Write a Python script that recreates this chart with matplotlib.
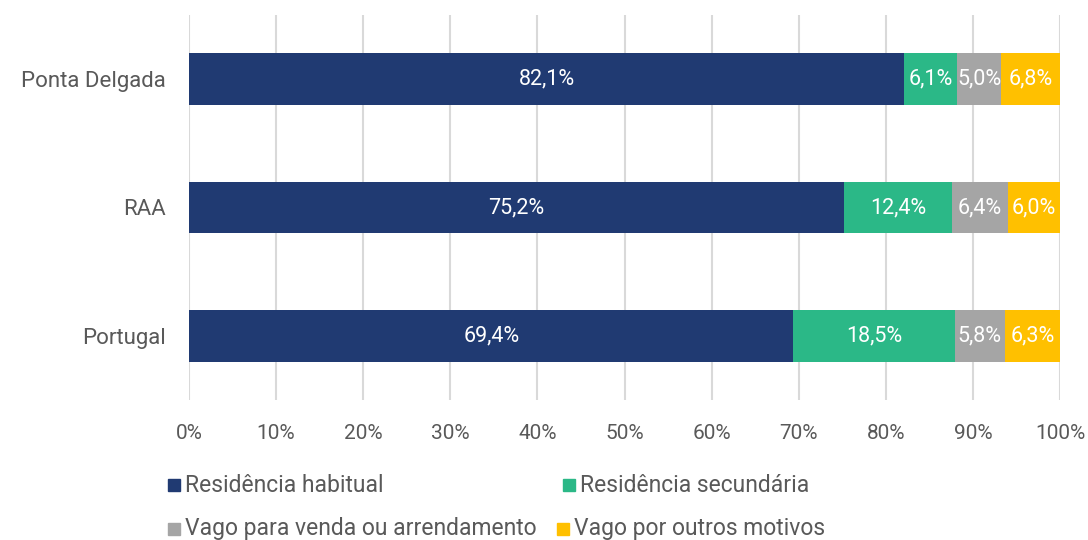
import matplotlib
matplotlib.use("Agg")
import matplotlib.pyplot as plt
from matplotlib.patches import Rectangle

plt.rcParams['font.family'] = ['Roboto', 'DejaVu Sans']

categories = ["Ponta Delgada", "RAA", "Portugal"]
series_names = ["Residência habitual", "Residência secundária",
                "Vago para venda ou arrendamento", "Vago por outros motivos"]
habitual = [82.1, 75.2, 69.4]
secundaria = [6.1, 12.4, 18.5]
vago_venda = [5.0, 6.4, 5.8]
vago_outros = [6.8, 6.0, 6.3]
x_ticks = [0, 10, 20, 30, 40, 50, 60, 70, 80, 90, 100]

colors = ["#203A72", "#2BB887", "#A5A5A5", "#FFC000"]
series = [habitual, secundaria, vago_venda, vago_outros]

W, H = 1088, 540
fig = plt.figure(figsize=(W / 100, H / 100), dpi=100)
ax = fig.add_axes([189 / W, 1 - 400 / H, (1060 - 189) / W, (400 - 15) / H])

ypos = list(range(len(categories)))
left = [0.0] * len(categories)
for vals, col in zip(series, colors):
    bars = ax.barh(ypos, vals, left=left, height=0.4, color=col, zorder=3)
    for b, v in zip(bars, vals):
        ax.text(b.get_x() + b.get_width() / 2, b.get_y() + b.get_height() / 2,
                f"{v:.1f}%".replace(".", ","), ha="center", va="center",
                color="white", fontsize=15.5, zorder=4)
    left = [l + v for l, v in zip(left, vals)]

ax.set_xlim(0, 100)
ax.set_ylim(2.5, -0.5)
ax.set_yticks(ypos)
ax.set_yticklabels(categories, fontsize=16)
ax.set_xticks(x_ticks)
ax.set_xticklabels([f"{t}%" for t in x_ticks], fontsize=15)
ax.tick_params(axis="both", length=0, colors="#595959")
ax.tick_params(axis="x", pad=17)
ax.tick_params(axis="y", pad=17)
ax.xaxis.grid(True, color="#D9D9D9", linewidth=1.5, zorder=0)
ax.yaxis.grid(False)
for s in ax.spines.values():
    s.set_visible(False)

# Legend drawn as squares and text in figure pixel coordinates
legend_items = [
    (168, 485, 185),
    (563, 485, 580),
    (168, 529, 185),
    (557, 529, 574),
]
sq = 12
for (sx, sy, tx), name, col in zip(legend_items, series_names, colors):
    fig.patches.append(Rectangle((sx / W, 1 - (sy + sq / 2) / H), sq / W, sq / H,
                                 transform=fig.transFigure, color=col))
    fig.text(tx / W, 1 - sy / H, name, ha="left", va="center",
             fontsize=16.5, color="#595959")

fig.savefig("out.png", dpi=100)
